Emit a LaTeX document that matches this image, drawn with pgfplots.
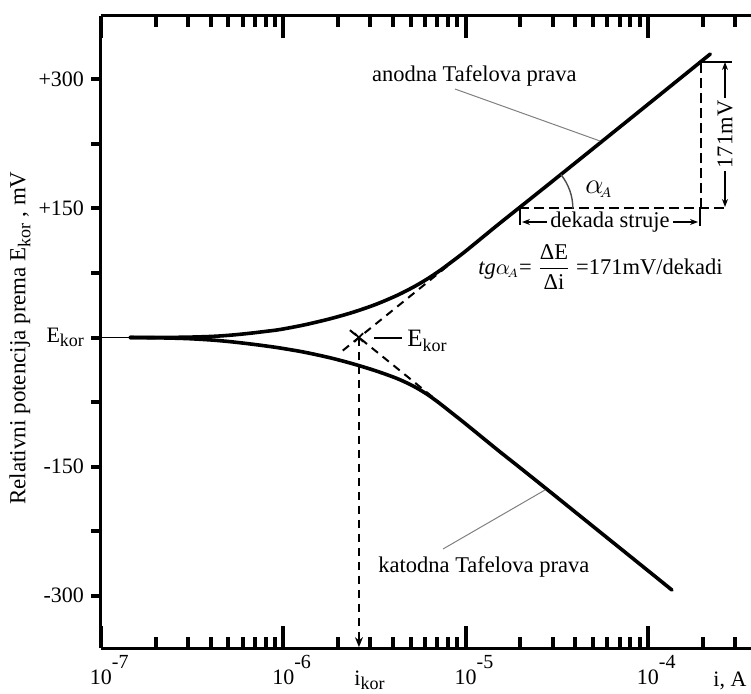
\documentclass[border=0pt]{standalone}
\usepackage{pgfplots}
\pgfplotsset{compat=1.18}
\usepackage{amsmath}
\usepackage{fontspec}
\setmainfont{Liberation Serif}
\usetikzlibrary{arrows.meta}
\newcommand\sub[1]{\raisebox{-0.45ex}{\fontsize{9}{9}\selectfont #1}}
\newcommand\tp[1]{10\rlap{\raisebox{8pt}{\fontsize{10}{10}\selectfont #1}}}
\newcommand\ann{\fontsize{11.25}{13}\selectfont}
\newcommand\tickf{\fontsize{11}{13}\selectfont}
\begin{document}
\begin{tikzpicture}
\begin{axis}[
  at={(50.5pt,22.5pt)}, anchor=south west,
  scale only axis, width=325pt, height=316pt,
  xmode=log, xmin=1e-7, xmax=3.677e-4,
  ymin=-361, ymax=373.8,
  axis x line*=box, axis y line*=left,
  axis line style={line width=1.5pt},
  xtick={1e-7,1e-6,1e-5,1e-4},
  xticklabels={\tp{-7},\tp{-6},\tp{-5},\tp{-4}},
  minor xtick={2e-7,3e-7,4e-7,5e-7,6e-7,7e-7,8e-7,9e-7,2e-6,3e-6,4e-6,5e-6,6e-6,7e-6,8e-6,9e-6,2e-5,3e-5,4e-5,5e-5,6e-5,7e-5,8e-5,9e-5,2e-4,3e-4},
  xtick align=inside,
  major tick length=11pt, minor tick length=5.5pt,
  tick style={line width=2pt, black},
  ytick=\empty,
  extra y ticks={-300,-225,-150,-75,0,75,150,225,300},
  extra y tick labels={-300,,-150,,E\sub{kor},,+150,,+300},
  extra y tick style={major tick length=5pt, tick align=outside},
  tick label style={font=\tickf},
  clip=false,
]
% thin reference line at E_kor
\addplot[line width=0.8pt] coordinates {(1e-7,0)(1.44e-7,0)};
% anodic polarization curve
\addplot[line width=1.8pt, smooth, line cap=round] coordinates {
(1.44e-7,0) (2.2e-7,0.1) (3e-7,0.4) (4.1e-7,1.3) (5.2e-7,2.8) (6.6e-7,5) (8e-7,7.1) (9.6e-7,9.3)
(1.3e-6,14.6) (1.8e-6,21.7) (2.4e-6,29.2) (3.2e-6,38.3) (4.2e-6,48.9) (5.2e-6,58.9) (6.2e-6,68.4)
(7.2e-6,77.6) (8.2e-6,86.4) (1e-5,100.4) (1.5e-5,130.9) (2e-5,152.0) (3e-5,181.8) (5e-5,219.6)
(1e-4,271.0) (2.2e-4,329.6)};
% cathodic polarization curve
\addplot[line width=1.8pt, smooth, line cap=round] coordinates {
(1.44e-7,0) (2.2e-7,-0.5) (3e-7,-1.3) (4.1e-7,-3) (5.2e-7,-5) (6.6e-7,-7.5) (8e-7,-9.8) (9.6e-7,-12.2)
(1.3e-6,-17) (1.8e-6,-23.5) (2.4e-6,-30.5) (3.2e-6,-38.6) (4.2e-6,-47.6) (5.2e-6,-56.8) (6.2e-6,-66.5)
(7.2e-6,-76.5) (8.2e-6,-85.9) (1e-5,-100.4) (1.5e-5,-130.8) (2e-5,-151.8) (3e-5,-181.7) (5e-5,-219.6)
(1e-4,-271.0) (1.355e-4,-293.6)};
% Tafel extrapolations
\addplot[line width=1pt, dash pattern=on 4pt off 3pt] coordinates {(2.12e-6,-15.2)(8.2e-6,85.3)};
\addplot[line width=1pt, dash pattern=on 4pt off 3pt] coordinates {(2.32e-6,8.5)(7.2e-6,-75.7)};
\addplot[only marks, mark=x, mark size=3pt, line width=0.9pt] coordinates {(2.6e-6,0)};
\addplot[line width=0.7pt, dash pattern=on 4pt off 3pt, -{Stealth[length=5pt,width=4pt]}] coordinates {(2.6e-6,0)(2.6e-6,-360)};
% slope triangle
\addplot[line width=1pt, dash pattern=on 5pt off 2.5pt] coordinates {(1.96e-5,150)(2.72e-4,150)};
\addplot[line width=1pt, dash pattern=on 5pt off 2.5pt] coordinates {(1.96e-4,150)(1.96e-4,321)};
\coordinate (P) at (axis cs:1.96e-5,150);
\end{axis}
\draw[black!70, line width=0.7pt] ([xshift=27pt]P) arc[start angle=0,end angle=38.9,radius=27pt];
% labels and annotations
\node[rotate=90, anchor=base, font=\fontsize{11.5}{13}\selectfont] at (12.75pt,177.5pt) {Relativni potencija prema E\sub{kor} , mV};
\node[anchor=base east, inner sep=0, font=\ann] at (288.5pt,305.5pt) {anodna Tafelova prava};
\node[anchor=base west, inner sep=0, font=\ann] at (189pt,60.5pt) {katodna Tafelova prava};
\draw[gray, line width=0.5pt] (227.5pt,302pt) -- (300pt,276pt);
\draw[gray, line width=0.5pt] (221.5pt,72pt) -- (272.5pt,101.5pt);
\draw[line width=0.6pt] (187pt,177.5pt) -- (201pt,177.5pt);
\node[anchor=base west, inner sep=0, font=\fontsize{12.5}{14}\selectfont] at (203.5pt,173.5pt) {E\sub{kor}};
\draw[line width=0.6pt, {Stealth[length=4pt]}-{Stealth[length=4pt]}] (261pt,235.5pt) -- (349pt,235.5pt) node[midway, fill=white, inner sep=1.5pt, font=\ann] {dekada struje};
\draw[line width=0.6pt] (260pt,243pt) -- (260pt,234pt);
\draw[line width=0.6pt] (350pt,243pt) -- (350pt,233.5pt);
\draw[line width=0.6pt, {Stealth[length=4pt]}-{Stealth[length=4pt]}] (362.5pt,315.5pt) -- (362.5pt,243pt) node[midway, fill=white, rotate=90, inner sep=1.5pt, font=\ann] {171mV};
\draw[line width=0.6pt] (351pt,315.5pt) -- (366pt,315.5pt);
\node[anchor=base west, inner sep=0, font=\ann] at (239pt,209.5pt) {\textit{tg}$\alpha_{\!\scriptscriptstyle A}$= $\dfrac{\text{ΔE}}{\text{Δi}}$ =171mV/dekadi};
\node[inner sep=0, font=\fontsize{15}{16}\selectfont] at (299.5pt,252pt) {$\alpha_{\!\scriptscriptstyle A}$};
\node[anchor=base west, inner sep=0, font=\tickf] at (356.5pt,3.5pt) {i, A};
\node[anchor=base west, inner sep=0, font=\tickf] at (177pt,3.8pt) {i\sub{kor}};
\pgfresetboundingbox
\path[use as bounding box] (0,0) rectangle (375.5pt,346.5pt);
\end{tikzpicture}
\end{document}
